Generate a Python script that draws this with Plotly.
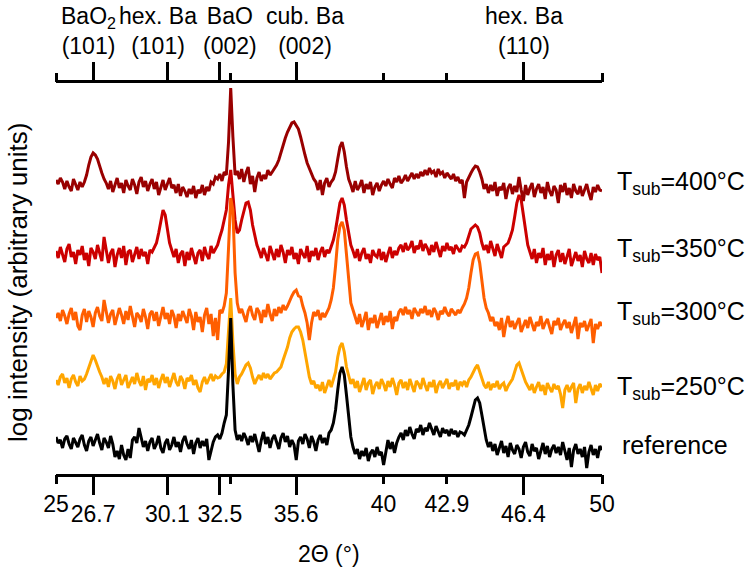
import plotly.graph_objects as go

# 2-theta grid (degrees): 25.0 ... 50.0 in 0.1 steps
TWO_THETA = [round(25 + 0.1 * i, 1) for i in range(251)]

# log intensity (arbitrary units, relative to each curve's own baseline)
REF = [8, 2, 5, -3, 6, 9, 1, -4, 7, 3,
       -2, 6, 10, 0, -6, 4, 8, -1, 5, 11,
       2, -5, 7, 3, -3, 9, 1, -12, -6, -14,
       0, -10, -15, -4, -13, 5, 8, 2, 17, 6,
       -2, 4, -6, 3, 7, -4, 1, 9, -3, -8,
       2, 6, -5, 0, 8, -2, 3, -7, 4, 9,
       1, -4, 5, -9, 2, 7, -3, 4, -1, 6,
       -15, -6, 3, 8, 10, 6, 12, 22, 30, 75,
       127, 60, 15, 5, 10, 4, 12, 7, 0, 9,
       3, 11, 2, -7, 5, 13, 1, 8, -3, 6,
       10, 2, -4, 7, 12, 3, 9, -2, 5, 0,
       -15, 4, 8, 1, 11, 6, -3, 9, 3, -6,
       5, 10, 2, 7, 0, 12, 15, 22, 35, 55,
       72, 78, 70, 50, 25, 8, -2, -9, -4, -14,
       -6, -11, -3, -16, -8, -5, -12, -2, -10, -7,
       -20, -6, 5, -4, 3, -8, 2, 8, 12, 5,
       15, 9, 18, 11, 6, 16, 13, 20, 10, 17,
       14, 22, 16, 10, 19, 13, 8, 17, 12, 15,
       9, 16, 11, 14, 8, 13, 12, 10, 15, 20,
       28, 38, 45, 47, 42, 30, 15, 5, -2, 3,
       -6, 1, -10, -3, 4, -8, -1, -12, 2, -5,
       -9, 0, -4, -13, -2, 3, -7, -11, 1, -6,
       -3, -14, -5, 2, -9, -1, -12, -4, 0, -8,
       -2, -10, 3, -6, -15, -3, -22, -5, 1, -9,
       -4, -12, -2, -23, -7, 0, -10, -4, -13, -1,
       -5]

T250 = [2, -3, 5, 8, -1, 4, -6, 3, 7, 0,
        -4, 6, 1, 3, 8, 15, 22, 27, 22, 15,
        10, 5, -2, 4, -5, 6, 1, -7, 3, 8,
        -3, 2, 7, -6, 0, 5, -2, 9, 1, -4,
        6, -8, 3, 0, 7, -3, 4, -6, 2, 8,
        -1, 5, -5, 3, 9, 0, -4, 6, 2, -7,
        4, 1, 7, -3, 2, -6, -10, 0, 5, -2,
        3, 8, 1, 6, 4, 5, 8, 10, 18, 50,
        84, 40, 8, -2, 5, 8, 12, 17, 19, 14,
        5, -2, 3, 7, 2, 9, 4, 8, 3, 6,
        9, 10, 12, 15, 22, 28, 35, 44, 50, 53,
        55, 55, 50, 42, 30, 15, 5, -2, 1, -6,
        -3, -9, 0, -11, -4, 2, -5, 2, 10, 25,
        35, 39, 30, 15, 5, -2, 3, -6, 1, -10,
        -3, 4, -8, -1, 2, -12, -4, 0, -7, 3,
        -2, -9, 1, -5, 4, -3, -13, -1, 2, -6,
        0, -8, 3, -4, -10, 1, -2, -7, 4, -3,
        -9, 0, -5, 2, -11, -3, 1, -6, -2, 3,
        -7, -1, -4, 2, -8, 0, -3, 1, -5, 2,
        5, 10, 14, 17, 10, 2, -3, -6, 0, -8,
        -2, -5, 1, -7, -3, -1, -9, -4, 0, 3,
        10, 17, 19, 12, 5, 0, -4, -8, -2, -11,
        -5, 0, -9, -3, -13, -1, -6, -10, -2, -7,
        -4, -12, -26, -8, -3, -10, -5, -1, -21, -7,
        -2, -11, -4, -8, 0, -6, -13, -3, -9, -2,
        -5]

T300 = [0, 5, -3, 8, 2, -6, 4, 10, -2, 6,
        -8, -12, 3, 9, -4, 7, 1, -9, 5, 11,
        2, -3, 18, 6, -5, 4, 8, -7, 1, 10,
        3, -6, 7, -2, 12, 0, -9, 5, 2, -4,
        9, 1, -11, 4, 7, -3, 6, -8, 3, 11,
        -1, 5, -6, 8, 2, -10, 4, -3, 7, 0,
        -5, 9, 2, -12, 6, -4, 1, -14, 3, 10,
        -6, 4, -18, 0, -22, 8, 5, 12, 25, 70,
        120, 108, 45, 15, 5, 9, 2, -4, 7, 12,
        3, -2, 10, 6, -5, 8, 1, 14, 4, -3,
        9, 2, 11, 5, 13, 8, 12, 18, 22, 26,
        28, 22, 21, 12, 5, -5, -22, -5, 6, 2,
        8, -2, 5, 1, 5, 10, 18, 30, 52, 78,
        92, 96, 88, 65, 38, 15, 8, 1, -6, 4,
        -9, -2, 6, -12, 0, -5, 3, -10, -1, 5,
        -7, 2, -4, 7, -11, 1, -3, 6, 9, 3,
        11, 4, 8, -1, 10, 6, 2, 9, 5, 12,
        3, 8, 1, 10, 6, -2, 7, 4, 11, 5,
        2, 9, 6, 3, 8, 5, 10, 14, 20, 30,
        45, 58, 64, 65, 55, 38, 20, 10, 5, -3,
        1, -8, -4, -12, 0, -19, -6, 2, -9, -3,
        -11, -5, 0, -14, -7, -2, -10, 1, -6, -13,
        -4, -8, 2, -11, -5, -1, -9, -16, -3, -7,
        0, -12, -6, -2, -10, -4, -15, -8, 1, -21,
        -5, -9, -3, -13, -7, -1, -25, -6, -11, -4,
        -8]

T350 = [4, -3, 8, 1, -7, 6, 11, -2, 3, -9,
        5, 0, 9, -5, 2, -11, 7, 3, -4, 10,
        1, -6, 18, 4, -8, 2, 6, -12, 0, 7,
        -3, 9, -10, 3, 5, -7, 1, 8, -4, 6,
        -1, 3, -9, 5, 3, 8, 12, 22, 35, 45,
        40, 25, 12, 5, -2, 6, -8, 1, 4, -11,
        3, -5, 7, -1, -9, 2, 5, -6, 8, 0,
        -4, 9, 2, 6, 10, 18, 25, 35, 45, 70,
        85, 60, 35, 22, 25, 35, 45, 52, 53, 45,
        30, 18, 10, 4, -3, 7, 1, -6, 9, 2,
        -5, 6, -2, 10, 3, -8, 5, 0, 8, -4,
        2, -9, 6, 1, -3, 9, -7, 4, -1, 7,
        -5, 3, 8, -2, 5, 2, 8, 15, 25, 40,
        52, 57, 50, 35, 20, 10, 4, -3, 6, -6,
        2, 7, -4, 1, -8, 5, 0, -2, 6, -5,
        3, -7, 1, 8, -3, 4, 0, 7, 10, 3,
        12, 5, 8, 14, 2, 9, 6, 15, 4, 11,
        7, 0, 10, 3, 13, 6, -2, 9, 4, 12,
        5, 8, 1, 10, 6, 3, 9, 8, 12, 18,
        26, 28, 30, 28, 22, 12, 5, 10, 2, 14,
        6, -1, 11, 3, -3, 8, 10, 12, 18, 25,
        38, 52, 60, 55, 40, 22, 10, 3, -4, 6,
        -8, 2, -3, 7, -10, 1, -5, 4, -12, 0,
        5, -7, 2, -9, -1, 6, -11, -3, 3, -6,
        0, -12, 4, -4, -8, 2, -10, 1, -5, -2,
        -18]

T400 = [7, 3, 9, 5, -2, 6, 0, -4, 8, 2,
        -3, 5, 0, 5, 12, 22, 30, 34, 32, 28,
        20, 14, 8, 4, -2, 6, -5, 3, 9, -1,
        4, -6, 7, 1, -3, 8, 2, -7, 5, 10,
        0, 6, -4, 3, 8, -2, 5, -8, 1, 7,
        -3, 4, 9, -1, 2, -6, 3, -9, 0, -4,
        -10, -2, -7, 1, -11, -3, -6, 2, -8, 0,
        -4, 5, 3, 10, 8, 13, 6, 15, 12, 45,
        99, 50, 12, 16, 8, 18, 5, 14, 20, 3,
        11, -5, 9, 15, 6, 12, 8, 17, 12, 15,
        18, 22, 27, 35, 42, 49, 55, 60, 64, 65,
        62, 58, 50, 40, 32, 24, 18, 12, 8, 5,
        -3, 7, -8, 4, 9, 0, 5, 8, 15, 28,
        40, 45, 35, 20, 8, 2, -5, 6, -3, 1,
        7, -6, 3, -2, 5, -8, 0, 4, -4, 2,
        6, 1, 8, 3, -1, 9, 5, 11, 4, 7,
        12, 6, 10, 14, 8, 13, 9, 15, 11, 17,
        12, 19, 14, 16, 10, 18, 13, 15, 9, 14,
        11, 8, 13, 6, 10, 4, 7, -11, 5, 10,
        14, 18, 21, 20, 15, 8, -2, 3, -6, 2,
        -4, 5, -9, 0, -3, 4, -12, -1, 3, -7,
        1, -5, 10, -3, -14, 2, -8, -1, 4, -10,
        -2, 3, -6, 0, -12, 5, -4, -9, 1, -3,
        -16, 2, -5, 4, -8, -1, -11, 3, -4, -7,
        1, -9, -2, 3, -6, -13, 0, -5, 2, -3,
        -4]

SERIES_NAMES = ["T<sub>sub</sub>=350°C", "T<sub>sub</sub>=400°C",
                "T<sub>sub</sub>=300°C", "T<sub>sub</sub>=250°C", "reference"]
SERIES_DATA = [T350, T400, T300, T250, REF]
OFFSETS = [219, 287, 156, 92, 29]          # vertical stacking offsets
LABEL_DY = [5, 4, 5, -6, 0]
COLORS = ["#CC0000", "#990000", "#FF5E00", "#FFA500", "#000000"]
LABEL_X = [615, 615, 615, 615, 620]

# Axis ticks
LONG_TICKS = [26.7, 30.1, 32.5, 36.0, 46.4]
LONG_TEXT = ["26.7", "30.1", "32.5", "35.6", "46.4"]
SHORT_TICKS = [25, 40, 42.9, 50]
SHORT_TEXT = ["25", "40", "42.9", "50"]
MINOR_TICKS = [33.0]

# Reflection labels on top axis
PEAK_LABELS = ["BaO<sub>2</sub><br>(101)", "hex. Ba<br>(101)", "BaO<br>(002)",
               "cub. Ba<br>(002)", "hex. Ba<br>(110)"]
PEAK_LABEL_X = [26.47, 29.67, 32.97, 36.40, 46.43]

FONT = "Liberation Sans, Arial, sans-serif"
W, H = 751, 567
L, R, T, B = 56, 149, 83, 93
PW, PH = W - L - R, H - T - B

fig = go.Figure()
for name, data, off, col in zip(SERIES_NAMES, SERIES_DATA, OFFSETS, COLORS):
    fig.add_trace(go.Scatter(x=TWO_THETA, y=[off + v for v in data], mode="lines",
                             line=dict(color=col, width=3), name=name,
                             showlegend=False, hoverinfo="skip"))

for ax in ["x2", "x3", "x4", "x5"]:
    fig.add_trace(go.Scatter(x=[None], y=[None], xaxis=ax, yaxis="y",
                             showlegend=False, hoverinfo="skip"))

axis_common = dict(range=[25, 50], showgrid=False, zeroline=False,
                   ticks="outside", tickcolor="black", tickwidth=2.5,
                   tickfont=dict(family=FONT, size=23, color="black"))

fig.update_layout(
    width=W, height=H,
    margin=dict(l=L, r=R, t=T, b=B, autoexpand=False),
    paper_bgcolor="white", plot_bgcolor="white",
    font=dict(family=FONT, size=23, color="black"),
    xaxis=dict(**axis_common, side="bottom", anchor="y", showline=True,
               linecolor="black", linewidth=2.5, mirror=False,
               tickmode="array", tickvals=LONG_TICKS, ticktext=LONG_TEXT, ticklen=18),
    xaxis3=dict(**axis_common, side="bottom", anchor="y", overlaying="x",
                showline=False, tickmode="array", tickvals=SHORT_TICKS,
                ticktext=SHORT_TEXT, ticklen=9),
    xaxis5=dict(**axis_common, side="bottom", anchor="y", overlaying="x",
                showline=False, tickmode="array", tickvals=MINOR_TICKS,
                ticklen=9, showticklabels=False),
    xaxis2=dict(**axis_common, side="top", anchor="y", overlaying="x",
                showline=True, linecolor="black", linewidth=2.5,
                tickmode="array", tickvals=LONG_TICKS, ticklen=18,
                showticklabels=False),
    xaxis4=dict(**axis_common, side="top", anchor="y", overlaying="x",
                showline=False, tickmode="array", tickvals=SHORT_TICKS + MINOR_TICKS,
                ticklen=9, showticklabels=False),
    yaxis=dict(range=[0, PH], visible=False, fixedrange=True),
)

# right-hand series labels
for name, off, dy, lx in zip(SERIES_NAMES, OFFSETS, LABEL_DY, LABEL_X):
    fig.add_annotation(x=(lx - L) / PW, xref="paper", y=off, yref="y",
                       yshift=dy, text=name, showarrow=False, xanchor="left",
                       yanchor="middle", font=dict(family=FONT, size=25, color="black"))

# top reflection labels
for txt, px in zip(PEAK_LABELS, PEAK_LABEL_X):
    fig.add_annotation(x=px, xref="x", y=1, yref="paper", yshift=22, text=txt,
                       showarrow=False, xanchor="center", yanchor="bottom",
                       align="center", font=dict(family=FONT, size=23, color="black"))

# axis titles
fig.add_annotation(x=0.5, xref="paper", y=-(554 - (T + PH)) / PH, yref="paper",
                   text="2Θ (°)", showarrow=False, xanchor="center", yanchor="middle",
                   font=dict(family=FONT, size=23, color="black"))
fig.add_annotation(x=(18 - L) / PW, xref="paper", y=(T + PH - 283) / PH, yref="paper",
                   text="log intensity (arbitrary units)", textangle=-90,
                   showarrow=False, xanchor="center", yanchor="middle",
                   font=dict(family=FONT, size=26, color="black"))

fig.write_html("out.html")
